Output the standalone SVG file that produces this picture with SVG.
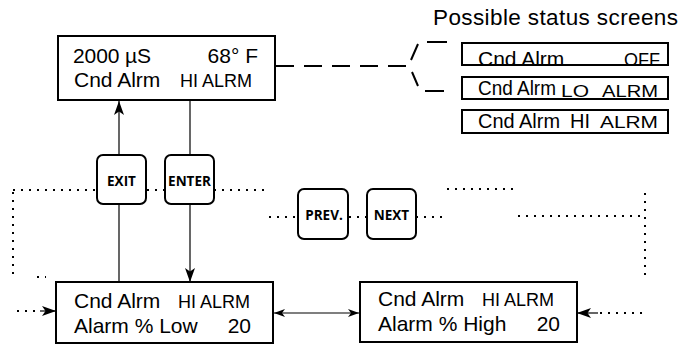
<svg xmlns="http://www.w3.org/2000/svg" width="680" height="345" viewBox="0 0 680 345">
<defs>
<style>
.box{fill:#fff;stroke:#000;stroke-width:2}
.sbox{fill:none;stroke:#000;stroke-width:2}
.btn{fill:#fff;stroke:#000;stroke-width:2}
.t{font-family:"Liberation Sans",Arial,sans-serif;font-size:21px;fill:#000}
.st{font-family:"Liberation Sans",Arial,sans-serif;font-size:19.5px;fill:#000}
.s{font-family:"Liberation Sans",Arial,sans-serif;font-size:18px;fill:#000}
.ss{font-family:"Liberation Sans",Arial,sans-serif;font-size:17px;fill:#000}
.b{font-family:"Open Sans","DejaVu Sans",sans-serif;font-weight:bold;font-size:13.5px;fill:#000;text-anchor:middle}
.ln{stroke:#000;stroke-width:1.2;fill:none}
.dot{stroke:#000;stroke-width:2;fill:none;stroke-dasharray:2 6}
.dash{stroke:#000;stroke-width:2;fill:none}
</style>
<marker id="ah" markerUnits="userSpaceOnUse" markerWidth="16" markerHeight="12" refX="14" refY="5" orient="auto" overflow="visible">
<path d="M0,0 L14,5 L0,10 L3.5,5 z" fill="#000"/>
</marker>
<marker id="ahs" markerUnits="userSpaceOnUse" markerWidth="12" markerHeight="10" refX="11" refY="4" orient="auto-start-reverse" overflow="visible">
<path d="M0,0 L11,4 L0,8 L3,4 z" fill="#000"/>
</marker>
</defs>
<rect width="680" height="345" fill="#fff"/>

<g id="connectors">
<line class="ln" x1="119" y1="282" x2="119" y2="101" marker-end="url(#ah)"/>
<line class="ln" x1="190" y1="101" x2="190" y2="282" marker-end="url(#ah)"/>
<line class="ln" x1="274" y1="313" x2="359" y2="313" marker-start="url(#ahs)" marker-end="url(#ahs)"/>
<path class="dash" d="M276,66 H408" stroke-dasharray="18 10"/>
<path class="dash" d="M411,60 L418,44 M427,42 H447 M412,72 L418,86 M425,91 H444"/>
<path class="dot" d="M13,190 H97 M147,190 H165 M214,190 H264"/>
<path class="dot" d="M13,192 V276"/>
<path class="dot" d="M37,277 H46"/>
<path class="dot" d="M269,217 H298 M349,217 H367 M416,217 H442"/>
<path class="dot" d="M447,189 H514"/>
<path class="dot" d="M518,216 H645"/>
<path class="dot" d="M645,193 V277"/>
<path class="dot" d="M17,311 H40"/>
<line class="ln" x1="40" y1="311" x2="56" y2="311" marker-end="url(#ah)"/>
<path class="dot" d="M642,313 H598"/>
<line class="ln" x1="598" y1="313" x2="577" y2="313" marker-end="url(#ah)"/>
</g>

<g id="node-main">
<rect class="box" x="58" y="36" width="217" height="64"/>
<text class="t" x="73" y="63" textLength="78" lengthAdjust="spacing">2000 µS</text>
<text class="t" x="258" y="63" text-anchor="end">68° F</text>
<text class="t" x="74" y="87">Cnd Alrm</text>
<text class="s" x="180" y="87">HI ALRM</text>
</g>

<g id="title">
<text class="t" x="433" y="25" style="font-size:22.5px" textLength="245" lengthAdjust="spacing">Possible status screens</text>
</g>

<g id="status-off">
<text class="t" x="478" y="66">Cnd Alrm</text>
<text class="t" x="660" y="66" text-anchor="end" style="font-size:18px">OFF</text>
<rect class="sbox" x="462" y="43" width="206" height="22"/>
</g>
<g id="status-lo">
<rect class="sbox" x="462" y="77" width="206" height="22"/>
<text class="st" x="478" y="95" textLength="78" lengthAdjust="spacingAndGlyphs">Cnd Alrm</text>
<text class="ss" x="561" y="97" textLength="28" lengthAdjust="spacingAndGlyphs">LO</text>
<text class="ss" x="602" y="97" textLength="56" lengthAdjust="spacingAndGlyphs">ALRM</text>
</g>
<g id="status-hi">
<rect class="sbox" x="462" y="110" width="206" height="23"/>
<text class="st" x="478" y="128" textLength="82" lengthAdjust="spacingAndGlyphs">Cnd Alrm</text>
<text class="st" x="570" y="128" textLength="20" lengthAdjust="spacingAndGlyphs">HI</text>
<text class="ss" x="600" y="128" textLength="58" lengthAdjust="spacingAndGlyphs">ALRM</text>
</g>

<g id="btn-exit">
<rect class="btn" x="97" y="155" width="49" height="49" rx="6"/>
<text class="b" x="121.5" y="186">EXIT</text>
</g>
<g id="btn-enter">
<rect class="btn" x="165" y="155" width="49" height="49" rx="6"/>
<text class="b" x="189.5" y="186">ENTER</text>
</g>
<g id="btn-prev">
<rect class="btn" x="298" y="189" width="50" height="50" rx="6"/>
<text class="b" x="324" y="220">PREV.</text>
</g>
<g id="btn-next">
<rect class="btn" x="367" y="189" width="49" height="50" rx="6"/>
<text class="b" x="391.5" y="220">NEXT</text>
</g>

<g id="node-low">
<rect class="box" x="56" y="282" width="217" height="61"/>
<text class="t" x="74" y="308">Cnd Alrm</text>
<text class="s" x="178" y="308">HI ALRM</text>
<text class="t" x="74" y="333">Alarm % Low</text>
<text class="t" x="251" y="333" text-anchor="end">20</text>
</g>

<g id="node-high">
<rect class="box" x="360" y="282" width="217" height="60"/>
<text class="t" x="378" y="306">Cnd Alrm</text>
<text class="s" x="482" y="306">HI ALRM</text>
<text class="t" x="378" y="331">Alarm % High</text>
<text class="t" x="560" y="331" text-anchor="end">20</text>
</g>
</svg>
